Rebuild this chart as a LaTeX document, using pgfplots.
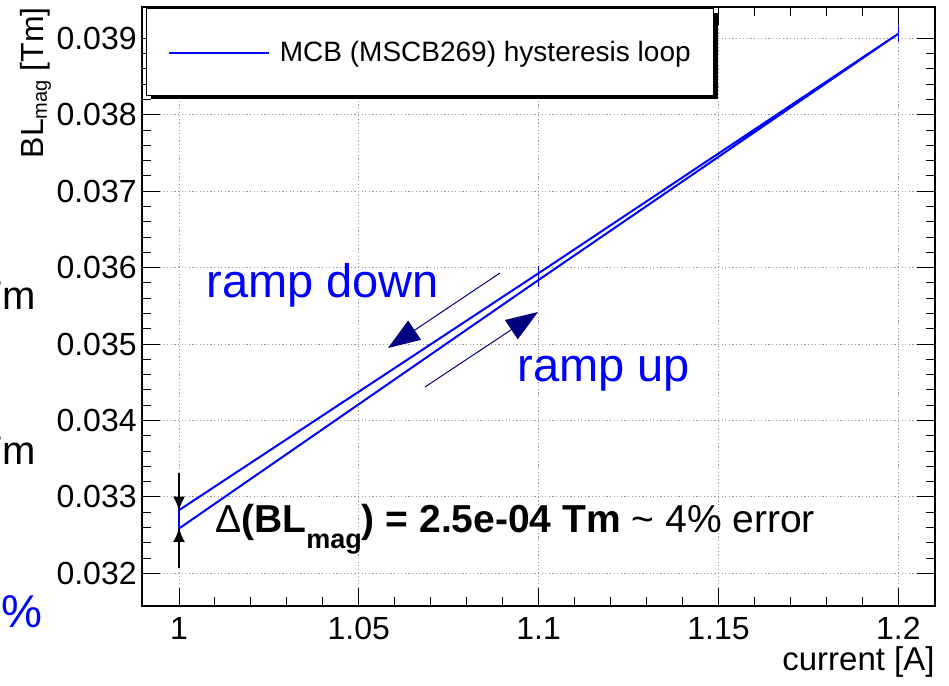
\documentclass[border=0pt]{standalone}
\usepackage{fontspec}
\setmainfont{Liberation Sans}
\usepackage{pgfplots}
\pgfplotsset{compat=1.18}
\usetikzlibrary{arrows.meta}
\definecolor{rootblue}{RGB}{0,0,255}
\definecolor{arrownavy}{RGB}{0,0,128}
\newcommand{\fs}[1]{\fontsize{#1}{#1}\selectfont}
\begin{document}
\begin{tikzpicture}
\useasboundingbox (0,0) rectangle (474.5pt,343pt);
\begin{axis}[
  at={(71pt,40pt)}, anchor=south west,
  scale only axis, width=396.5pt, height=299.5pt,
  xmin=0.98971, xmax=1.2102, ymin=0.031572, ymax=0.03941,
  xtick={1,1.05,1.1,1.15,1.2},
  xticklabels={1,1.05,1.1,1.15,1.2},
  ytick={0.032,0.033,0.034,0.035,0.036,0.037,0.038,0.039},
  yticklabels={0.032,0.033,0.034,0.035,0.036,0.037,0.038,0.039},
  minor x tick num=4, minor y tick num=4,
  tick align=inside,
  major tick length=9pt, minor tick length=4.5pt,
  grid=major,
  major grid style={gray!80, dash pattern=on 0.6pt off 1.2pt, line width=0.5pt},
  axis line style={line width=0.6pt},
  tick style={black, line width=0.5pt},
  every tick label/.append style={inner sep=0pt, font=\fs{16}},
  xticklabel style={yshift=-5.5pt},
  yticklabel style={xshift=-2.5pt},
  legend style={at={(0.0328,0.9232)}, anchor=west, draw=none, fill=none,
    inner sep=0pt, column sep=5pt, font=\fs{14}, nodes={inner sep=0pt}},
  legend image code/.code={\draw[rootblue, line width=0.75pt] (0pt,0pt) -- (50pt,0pt);},
]
% legend frame with ROOT style shadow
\fill[black] (rel axis cs:0.7213,0.98998) rectangle (rel axis cs:0.7264,0.84641);
\fill[black] (rel axis cs:0.01135,0.85142) rectangle (rel axis cs:0.7264,0.84641);
\draw[black, line width=0.5pt, fill=white] (rel axis cs:0.0063,0.99666) rectangle (rel axis cs:0.7213,0.85142);

\addplot[rootblue, line width=1pt, mark=none,
  error bars/.cd, y dir=both, y explicit,
  error bar style={line width=0.8pt},
  error mark options={line width=0.8pt, mark size=2pt}]
  coordinates {
    (1,0.032586)   +- (0,0.00008)
    (1.1,0.035839) +- (0,0.00004)
    (1.2,0.03906)  +- (0,0.00005)
    (1.1,0.035927) +- (0,0.00004)
    (1,0.032826)   +- (0,0.00008)
  };
\addlegendentry{MCB (MSCB269) hysteresis loop}

% delta arrows at I = 1 A
\draw[black, line width=1pt, -{Latex[length=7pt,width=6pt]}] (axis cs:1,0.033312) -- (axis cs:1,0.03282);
\draw[black, line width=1pt, -{Latex[length=7pt,width=6pt]}] (axis cs:1,0.032069) -- (axis cs:1,0.032593);
\end{axis}

% annotations, in pixel units of the reference (y downwards)
\begin{scope}[x=0.5pt, y=-0.5pt, shift={(0pt,343pt)}]
  \node[rotate=90, anchor=base east, inner sep=0pt, font=\fs{16}] at (43,7)
    {BL\raisebox{-2pt}{\fs{10}mag} [Tm]};
  \node[anchor=base east, inner sep=0pt, font=\fs{16.5}] at (935,671) {current [A]};

  \draw[arrownavy, line width=0.5pt, -{Triangle[length=16pt,width=11.5pt]}] (500,273) -- (388,348);
  \draw[arrownavy, line width=0.5pt, -{Triangle[length=16pt,width=11.5pt]}] (425,387) -- (538,312);
  \node[anchor=base west, inner sep=0pt, text=rootblue, font=\fs{23.5}] at (206,298) {ramp down};
  \node[anchor=base west, inner sep=0pt, text=rootblue, font=\fs{23.5}] at (517,382) {ramp up};

  \node[anchor=base west, inner sep=0pt, font=\fs{19.5}] at (215,533)
    {Δ\textbf{(BL\raisebox{-8pt}{\fs{13.5}\bfseries mag}) = 2.5e-04 Tm} \textasciitilde{} 4\% error};

  % fragments of the neighbouring slide text, cut by the picture edge
  \node[anchor=base east, inner sep=0pt, font=\fs{20}] at (36,310) {Tm};
  \node[anchor=base east, inner sep=0pt, font=\fs{20}] at (36,465) {Tm};
  \node[anchor=base east, inner sep=0pt, text=rootblue, font=\fs{23}] at (43,628) {\%};
\end{scope}
\end{tikzpicture}
\end{document}
